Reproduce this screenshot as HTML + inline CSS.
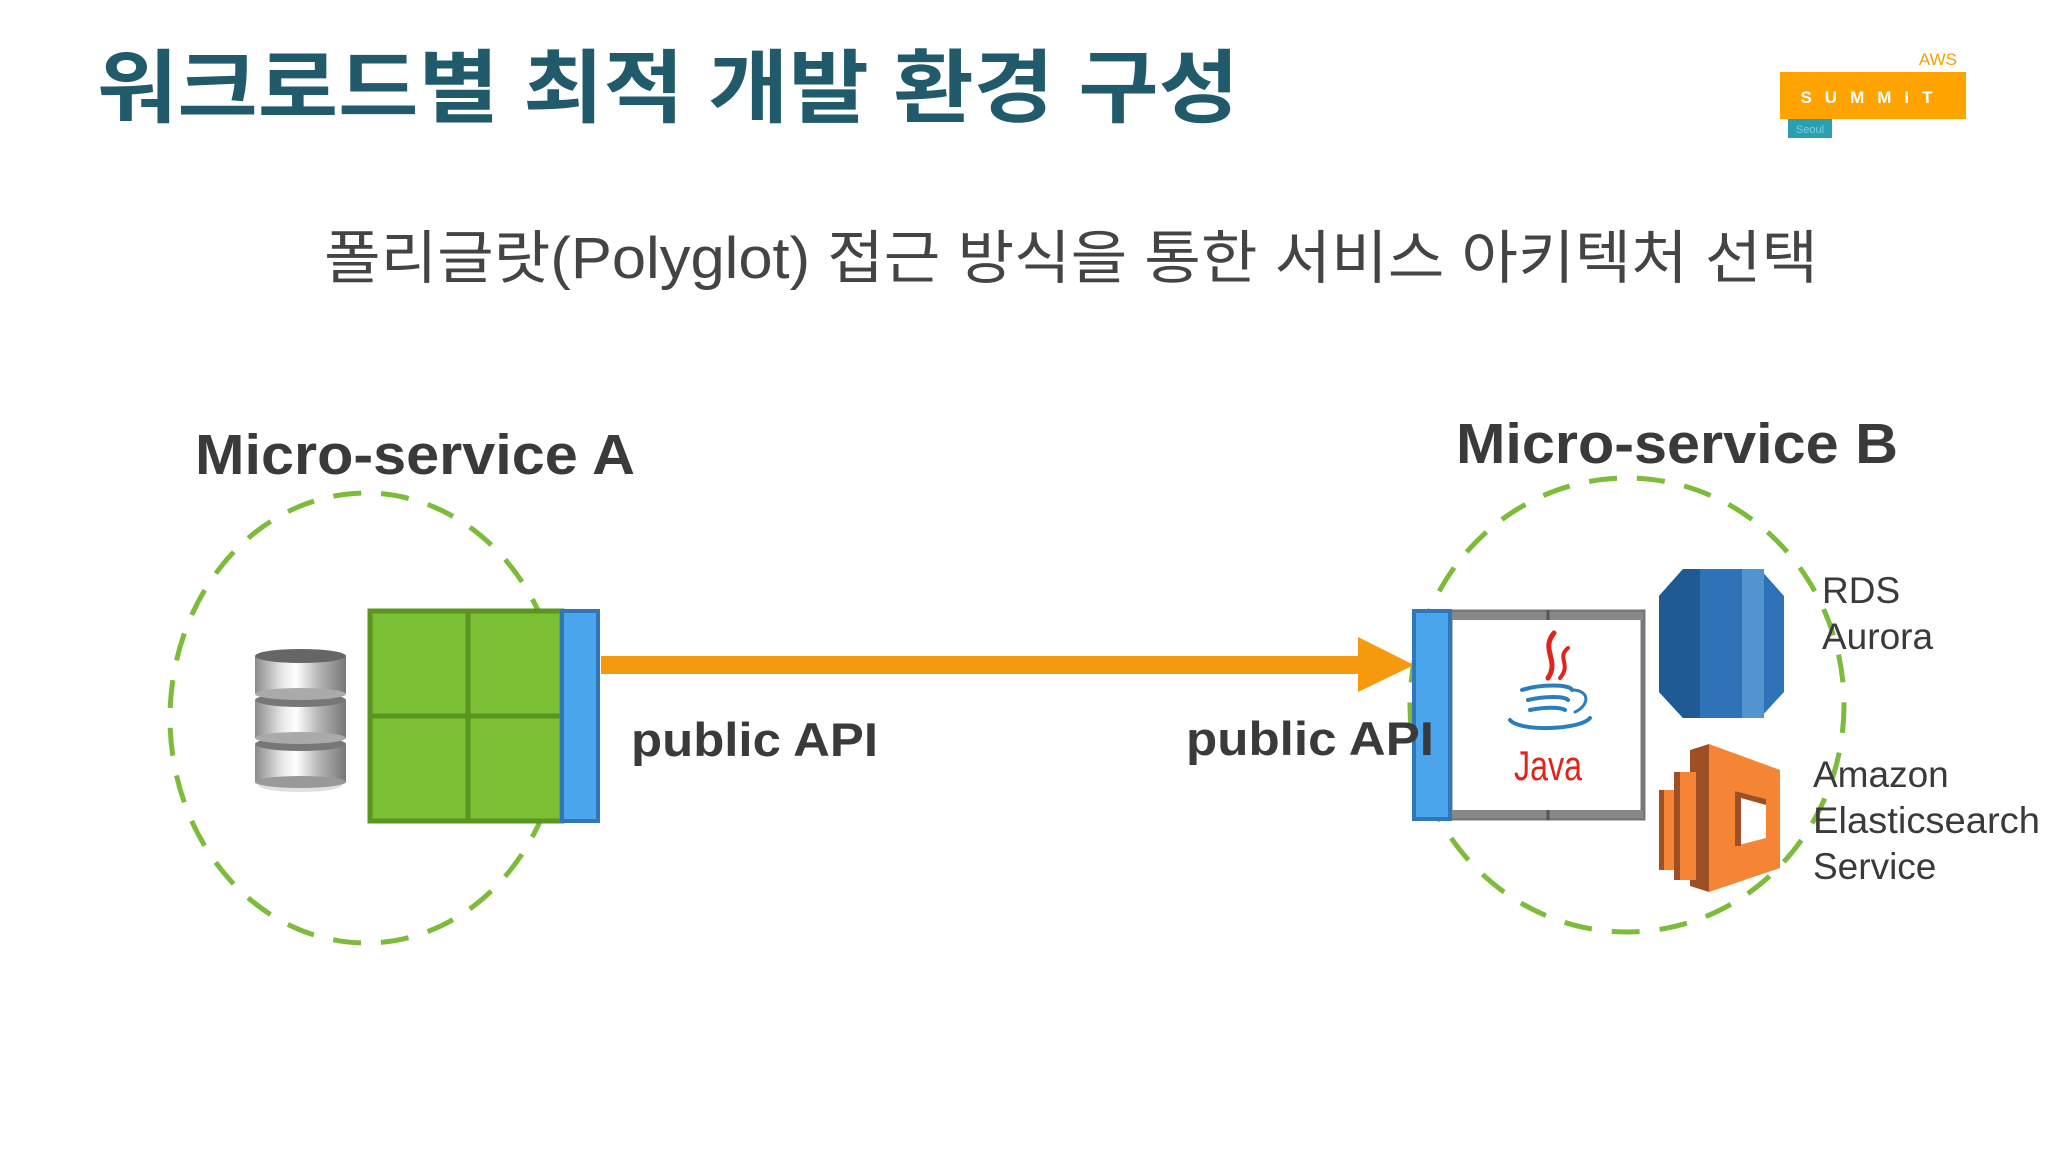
<!DOCTYPE html>
<html><head><meta charset="utf-8"><style>
html,body{margin:0;padding:0;background:#fff;width:2048px;height:1152px;overflow:hidden}
svg{display:block}
</style></head><body>
<svg width="2048" height="1152" viewBox="0 0 2048 1152" xmlns="http://www.w3.org/2000/svg">
<defs>
<linearGradient id="cyl" x1="0" x2="1" y1="0" y2="0">
<stop offset="0" stop-color="#8a8a8a"/><stop offset="0.3" stop-color="#e8e8e8"/><stop offset="0.45" stop-color="#ffffff"/><stop offset="0.7" stop-color="#b5b5b5"/><stop offset="1" stop-color="#777"/>
</linearGradient>
</defs>
<!-- Title -->
<text x="97" y="116" font-family="Liberation Sans, Noto Sans CJK KR, sans-serif" font-weight="bold" font-size="80" fill="#215b6b" textLength="1142" lengthAdjust="spacingAndGlyphs">워크로드별 최적 개발 환경 구성</text>
<!-- Logo -->
<text x="1957" y="65" text-anchor="end" font-family="Liberation Sans, sans-serif" font-size="17" fill="#f5a000">AWS</text>
<rect x="1780" y="72" width="186" height="47" fill="#ffa300"/>
<text x="1873" y="103" text-anchor="middle" font-family="Liberation Sans, sans-serif" font-weight="bold" font-size="17" fill="#fff" letter-spacing="13">SUMMIT</text>
<rect x="1788" y="119" width="44" height="19" fill="#2a9fb3"/>
<text x="1810" y="133" text-anchor="middle" font-family="Liberation Sans, sans-serif" font-size="11" fill="#7fd0dc">Seoul</text>
<!-- Subtitle -->
<text x="324" y="278" font-family="Liberation Sans, Noto Sans CJK KR, sans-serif" font-size="58" fill="#444" textLength="1494" lengthAdjust="spacingAndGlyphs">폴리글랏(Polyglot) 접근 방식을 통한 서비스 아키텍처 선택</text>
<!-- Headings -->
<text x="195" y="474" font-family="Liberation Sans, sans-serif" font-weight="bold" font-size="57" fill="#3a3a3a" textLength="440" lengthAdjust="spacingAndGlyphs">Micro-service A</text>
<text x="1456" y="463" font-family="Liberation Sans, sans-serif" font-weight="bold" font-size="57" fill="#3a3a3a" textLength="442" lengthAdjust="spacingAndGlyphs">Micro-service B</text>
<!-- Circles -->
<ellipse cx="366" cy="718" rx="196" ry="225" fill="none" stroke="#7dbb3a" stroke-width="5" stroke-dasharray="28 20"/>
<ellipse cx="1627" cy="705" rx="217" ry="227" fill="none" stroke="#7dbb3a" stroke-width="5" stroke-dasharray="28 20"/>
<!-- DB icon -->
<g>
<ellipse cx="300" cy="785" rx="42" ry="7" fill="#ccc" opacity="0.6"/>
<rect x="255" y="744" width="91" height="38" fill="url(#cyl)"/><ellipse cx="300.5" cy="782" rx="45.5" ry="6" fill="#999"/><ellipse cx="300.5" cy="744" rx="45.5" ry="7" fill="#777"/>
<rect x="255" y="700" width="91" height="38" fill="url(#cyl)"/><ellipse cx="300.5" cy="738" rx="45.5" ry="6" fill="#aaa"/><ellipse cx="300.5" cy="700" rx="45.5" ry="7" fill="#777"/>
<rect x="255" y="656" width="91" height="38" fill="url(#cyl)"/><ellipse cx="300.5" cy="694" rx="45.5" ry="6" fill="#aaa"/><ellipse cx="300.5" cy="656" rx="45.5" ry="7" fill="#666"/>
</g>
<!-- Green grid -->
<rect x="370" y="611" width="192" height="210" fill="#7bbf35" stroke="#5a9521" stroke-width="5"/>
<line x1="468" y1="611" x2="468" y2="821" stroke="#5a9521" stroke-width="5"/>
<line x1="370" y1="716" x2="562" y2="716" stroke="#5a9521" stroke-width="5"/>
<rect x="562" y="611" width="36" height="210" fill="#4aa5ec" stroke="#2f77b7" stroke-width="4"/>
<!-- Arrow -->
<rect x="601" y="656" width="760" height="18" fill="#f59a0c"/>
<polygon points="1358,637 1414,665 1358,692" fill="#f59a0c"/>
<!-- public API -->
<text x="631" y="756" font-family="Liberation Sans, sans-serif" font-weight="bold" font-size="47" fill="#3a3a3a" textLength="247" lengthAdjust="spacingAndGlyphs">public API</text>
<!-- Right box -->
<rect x="1450" y="612" width="193" height="206" fill="#fff" stroke="#777" stroke-width="5"/>
<rect x="1450" y="612" width="193" height="8" fill="#888"/>
<rect x="1450" y="810" width="193" height="8" fill="#888"/>
<line x1="1548" y1="610" x2="1548" y2="620" stroke="#555" stroke-width="3"/>
<line x1="1548" y1="810" x2="1548" y2="820" stroke="#555" stroke-width="3"/>
<rect x="1414" y="611" width="36" height="208" fill="#4aa5ec" stroke="#2f77b7" stroke-width="4"/>
<text x="1186" y="755" font-family="Liberation Sans, sans-serif" font-weight="bold" font-size="47" fill="#3a3a3a" textLength="248" lengthAdjust="spacingAndGlyphs">public API</text>
<!-- Java logo -->
<g fill="none" stroke-linecap="round">
<path d="M1554 633 C1540 650 1560 660 1548 678" stroke="#e2231a" stroke-width="5"/>
<path d="M1568 648 C1556 658 1572 664 1560 678" stroke="#e2231a" stroke-width="4"/>
<path d="M1522 690 C1540 684 1570 684 1572 690" stroke="#2a7dbf" stroke-width="4"/>
<path d="M1528 700 C1545 696 1565 696 1568 700" stroke="#2a7dbf" stroke-width="4"/>
<path d="M1530 710 C1545 707 1560 707 1565 710" stroke="#2a7dbf" stroke-width="4"/>
<path d="M1510 720 C1520 732 1580 730 1590 718" stroke="#2a7dbf" stroke-width="4"/>
<path d="M1572 690 C1590 690 1590 705 1575 712" stroke="#2a7dbf" stroke-width="3"/>
</g>
<text x="1548" y="780" text-anchor="middle" font-family="Liberation Sans, sans-serif" font-size="42" fill="#e2231a" textLength="68" lengthAdjust="spacingAndGlyphs">Java</text>
<!-- RDS icon -->
<polygon points="1683,569 1760,569 1784,596 1784,692 1760,718 1683,718 1659,692 1659,596" fill="#2e73b8"/>
<polygon points="1683,569 1700,569 1700,718 1683,718 1659,692 1659,596" fill="#1f5a94"/>
<rect x="1742" y="569" width="22" height="149" fill="#5294cf"/>
<!-- Elasticsearch icon -->
<polygon points="1709,744 1780,770 1780,868 1709,892" fill="#f58534"/>
<polygon points="1709,744 1709,892 1690,886 1690,750" fill="#9d5025"/>
<rect x="1674" y="772" width="22" height="108" fill="#f58534"/>
<rect x="1659" y="790" width="18" height="80" fill="#f58534"/>
<rect x="1674" y="772" width="6" height="108" fill="#9d5025"/>
<rect x="1659" y="790" width="5" height="80" fill="#9d5025"/>
<polygon points="1735,791 1766,799 1766,838 1735,846" fill="#fff"/>
<polygon points="1735,791 1766,799 1766,805 1741,798 1741,846 1735,846" fill="#9d5025"/>
<!-- Labels -->
<g font-family="Liberation Sans, sans-serif" font-size="37" fill="#3a3a3a">
<text x="1822" y="603">RDS</text>
<text x="1822" y="649">Aurora</text>
<text x="1813" y="787">Amazon</text>
<text x="1813" y="833" textLength="227" lengthAdjust="spacingAndGlyphs">Elasticsearch</text>
<text x="1813" y="879">Service</text>
</g>
</svg>
</body></html>
